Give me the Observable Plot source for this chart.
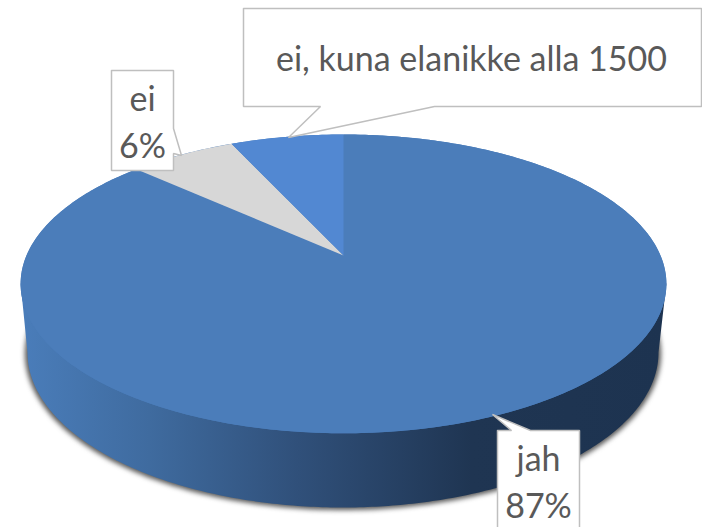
<!DOCTYPE html>
<html><head><meta charset="utf-8">
<script src="https://cdn.jsdelivr.net/npm/d3@7"></script>
<script src="https://cdn.jsdelivr.net/npm/@observablehq/plot@0.6"></script>
<style>html,body{margin:0;padding:0;background:#fff;overflow:hidden}svg{display:block}</style>
</head><body><div id="chart"></div>
<script>
// Data (shares, clockwise from 12 o'clock)
const categories = ["jah", "ei", "ei, kuna elanikke alla 1500"];
const values = [86.8, 6.4, 6.8];
const sliceColors = ["#4b7dba", "#d7d7d7", "#5288d2"];

// Layout of the tilted disc
const apex = {x: 343, y: 255};
const persp = {a: 317, b: 144, k: 0.19};
const lowRim = {cx: 342.5, cy: 352, rx: 315.5, ry: 155};
const shadowRim = {cx: 342.5, cy: 353, rx: 318, ry: 156.5};

// Callouts: box, pointer and text positions
const callouts = [
  {outline: [[497,430],[511,430],[492,414],[530,430],[579,430],[579,540],[497,540],[497,430]],
   lines: [{t: categories[0], x: 538, y: 470}, {t: d3.format(".0f")(values[0]) + "%", x: 538, y: 517}]},
  {outline: [[111,70],[173,70],[173,128],[181,155],[173,153],[173,170],[111,170],[111,70]],
   lines: [{t: categories[1], x: 142, y: 110}, {t: d3.format(".0f")(values[1]) + "%", x: 142, y: 157}]},
  {outline: [[243,8],[701,8],[701,106],[434,106],[288,137],[320,106],[243,106],[243,8]],
   lines: [{t: categories[2], x: 471, y: 70}]}
];

const total = d3.sum(values);
const rimPoint = frac => {
  const th = frac * 2 * Math.PI, X = Math.sin(th), Y = Math.cos(th), w = 1 + persp.k * Y;
  return [apex.x + persp.a * X / w, apex.y - persp.b * Y / w];
};
const steps = (a, b, n) => d3.range(n + 1).map(i => a + (b - a) * i / n);
let acc = 0;
const slices = values.map((v, i) => {
  const f0 = acc / total; acc += v; const f1 = acc / total;
  return {i, pts: [[apex.x, apex.y], ...steps(f0, f1, Math.ceil(v * 6)).map(rimPoint), [apex.x, apex.y]]};
});
const rim = steps(0, 1, 400).map(rimPoint);
const ell = (e, t0, t1, n) => steps(t0, t1, n).map(t => [e.cx + e.rx * Math.cos(t), e.cy + e.ry * Math.sin(t)]);
const sidePts = [d3.least(rim, d => d[0]), d3.greatest(rim, d => d[0]), ...ell(lowRim, 0, Math.PI, 240)];
const shadowPts = ell(shadowRim, 0, 2 * Math.PI, 300);

const poly = (pts, opts) => Plot.line(pts, {x: d => d[0], y: d => d[1], curve: "linear", stroke: "none", ...opts});

const defs = () => {
  const d = d3.create("svg:defs");
  const g = d.append("linearGradient").attr("id", "sideGrad")
    .attr("gradientUnits", "userSpaceOnUse").attr("x1", 20).attr("x2", 665).attr("y1", 0).attr("y2", 0);
  [[0, "#4a7dba"], [0.2, "#3f6b9f"], [0.43, "#30507a"], [0.7, "#1f3552"], [1, "#1d3350"]]
    .forEach(([o, c]) => g.append("stop").attr("offset", o).attr("stop-color", c));
  return d.node();
};
const blurred = (index, scales, vals, dims, ctx, next) => {
  const g = next(index, scales, vals, dims, ctx);
  g.style.filter = "blur(2.5px)";
  return g;
};

const chart = Plot.plot({
  width: 702, height: 527, margin: 0,
  x: {domain: [0, 702], range: [0, 702], axis: null},
  y: {domain: [0, 527], range: [0, 527], axis: null},
  style: {background: "#fff", fontFamily: "Lato, sans-serif"},
  marks: [
    defs,
    poly(shadowPts, {fill: "#3a3a3a", fillOpacity: 0.85, render: blurred}),
    poly(sidePts, {fill: "url(#sideGrad)"}),
    poly(rim, {fill: sliceColors[0]}),
    ...slices.map(s => poly(s.pts, {fill: sliceColors[s.i]})),
    ...callouts.map(c => poly(c.outline, {fill: "#fff", stroke: "#bfbfbf", strokeWidth: 1.5, strokeLinejoin: "miter"})),
    ...callouts.map(c => Plot.text(c.lines, {x: "x", y: "y", text: "t", lineAnchor: "bottom", textAnchor: "middle",
      fontSize: 34, fill: "#595959"}))
  ]
});
document.getElementById("chart").append(chart);
</script></body></html>
